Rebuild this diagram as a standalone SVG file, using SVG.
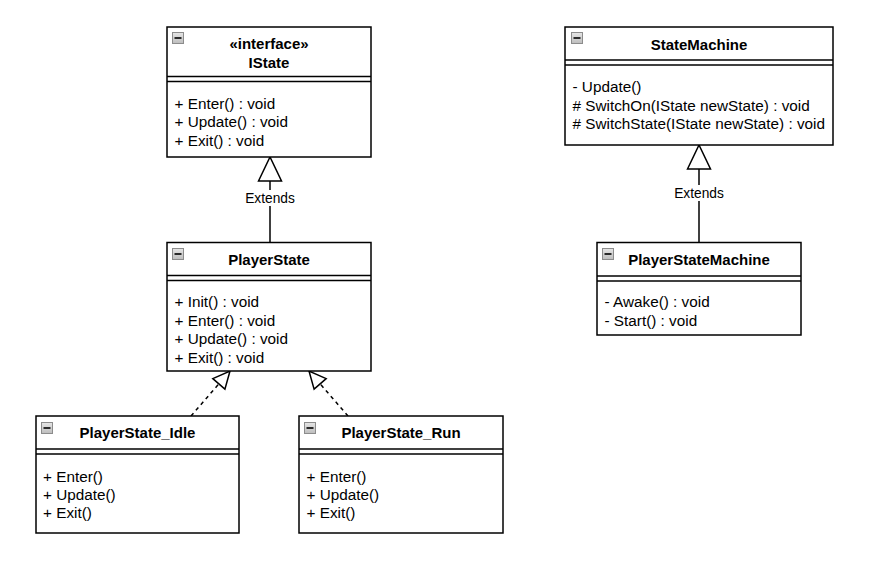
<svg xmlns="http://www.w3.org/2000/svg" xmlns:xlink="http://www.w3.org/1999/xlink" width="875" height="563" viewBox="0 0 875 563">
  <style>
    .box { fill: #ffffff; stroke: #000000; stroke-width: 1.5; }
    .sep { stroke: #000000; stroke-width: 1.5; fill: none; }
    .title { font-family: "Liberation Sans", Arial, Helvetica, sans-serif; font-size: 15px; font-weight: bold; fill: #000000; text-anchor: middle; }
    .mem { font-family: "Liberation Sans", Arial, Helvetica, sans-serif; font-size: 15.3px; fill: #000000; }
    .edge { stroke: #000000; stroke-width: 1.5; fill: none; }
    .dash { stroke-dasharray: 3.75 3.75; }
    .lbl { font-family: "Liberation Sans", Arial, Helvetica, sans-serif; font-size: 13.75px; fill: #000000; text-anchor: middle; }
    .lblbg { fill: #ffffff; }
  </style>
  <defs>
    <linearGradient id="iconGrad" x1="0" y1="0" x2="0" y2="1">
      <stop offset="0" stop-color="#e6e6e6"/>
      <stop offset="1" stop-color="#bdbdbd"/>
    </linearGradient>
    <g id="minus">
      <rect x="0.5" y="0.5" width="11" height="11" fill="url(#iconGrad)" stroke="#8c8c8c" stroke-width="1"/>
      <line x1="2.5" y1="6" x2="9.5" y2="6" stroke="#000000" stroke-width="1.6"/>
    </g>
    <marker id="triL" markerUnits="userSpaceOnUse" viewBox="0 0 24 23" markerWidth="24" markerHeight="23" refX="24" refY="11.5" orient="auto" overflow="visible">
      <path d="M0,0 L24,11.5 L0,23 Z" fill="#ffffff" stroke="#000000" stroke-width="1.5"/>
    </marker>
    <marker id="triS" markerUnits="userSpaceOnUse" viewBox="0 0 17 16" markerWidth="17" markerHeight="16" refX="17" refY="8" orient="auto" overflow="visible">
      <path d="M0,0 L17,8 L0,16 Z" fill="#ffffff" stroke="#000000" stroke-width="1.5"/>
    </marker>
  </defs>

  <g id="connectors">
    <path class="edge" d="M270,242.5 L270,157" marker-end="url(#triL)"/>
    <rect class="lblbg" x="244" y="190" width="52" height="16"/>
    <text class="lbl" x="270" y="203.3">Extends</text>

    <path class="edge" d="M699,242.5 L699,145" marker-end="url(#triL)"/>
    <rect class="lblbg" x="673" y="185" width="52" height="16"/>
    <text class="lbl" x="699" y="197.5">Extends</text>

    <path class="edge dash" d="M191,416 L230,371" marker-end="url(#triS)"/>
    <path class="edge dash" d="M348,416 L309,371" marker-end="url(#triS)"/>
  </g>

  <g id="IState">
    <rect class="box" x="167" y="27" width="204" height="130"/>
    <line class="sep" x1="167" y1="76.5" x2="371" y2="76.5"/>
    <line class="sep" x1="167" y1="81.5" x2="371" y2="81.5"/>
    <use xlink:href="#minus" x="172" y="32"/>
    <text class="title" x="269" y="49.3">«interface»</text>
    <text class="title" x="269" y="67.8">IState</text>
    <text class="mem" x="174.5" y="108.5">+ Enter() : void</text>
    <text class="mem" x="174.5" y="127">+ Update() : void</text>
    <text class="mem" x="174.5" y="145.5">+ Exit() : void</text>
  </g>

  <g id="PlayerState">
    <rect class="box" x="167" y="242.5" width="204" height="128.5"/>
    <line class="sep" x1="167" y1="275.5" x2="371" y2="275.5"/>
    <line class="sep" x1="167" y1="280.5" x2="371" y2="280.5"/>
    <use xlink:href="#minus" x="172" y="248"/>
    <text class="title" x="269" y="265">PlayerState</text>
    <text class="mem" x="174.5" y="307.4">+ Init() : void</text>
    <text class="mem" x="174.5" y="325.8">+ Enter() : void</text>
    <text class="mem" x="174.5" y="344.2">+ Update() : void</text>
    <text class="mem" x="174.5" y="362.6">+ Exit() : void</text>
  </g>

  <g id="StateMachine">
    <rect class="box" x="565" y="27" width="268" height="118"/>
    <line class="sep" x1="565" y1="60" x2="833" y2="60"/>
    <line class="sep" x1="565" y1="65" x2="833" y2="65"/>
    <use xlink:href="#minus" x="571" y="32"/>
    <text class="title" x="699" y="49.5">StateMachine</text>
    <text class="mem" x="572.5" y="92.3">- Update()</text>
    <text class="mem" x="572.5" y="110.7"># SwitchOn(IState newState) : void</text>
    <text class="mem" x="572.5" y="129"># SwitchState(IState newState) : void</text>
  </g>

  <g id="PlayerStateMachine">
    <rect class="box" x="597" y="242.5" width="204" height="92.5"/>
    <line class="sep" x1="597" y1="276" x2="801" y2="276"/>
    <line class="sep" x1="597" y1="281" x2="801" y2="281"/>
    <use xlink:href="#minus" x="602" y="248"/>
    <text class="title" x="699" y="265">PlayerStateMachine</text>
    <text class="mem" x="604.5" y="307.4">- Awake() : void</text>
    <text class="mem" x="604.5" y="325.8">- Start() : void</text>
  </g>

  <g id="PlayerState_Idle">
    <rect class="box" x="36" y="416" width="203" height="117"/>
    <line class="sep" x1="36" y1="449" x2="239" y2="449"/>
    <line class="sep" x1="36" y1="454" x2="239" y2="454"/>
    <use xlink:href="#minus" x="41" y="422"/>
    <text class="title" x="137.5" y="437.5">PlayerState_Idle</text>
    <text class="mem" x="43" y="481.8">+ Enter()</text>
    <text class="mem" x="43" y="500">+ Update()</text>
    <text class="mem" x="43" y="518.4">+ Exit()</text>
  </g>

  <g id="PlayerState_Run">
    <rect class="box" x="299" y="416" width="204" height="117"/>
    <line class="sep" x1="299" y1="449" x2="503" y2="449"/>
    <line class="sep" x1="299" y1="454" x2="503" y2="454"/>
    <use xlink:href="#minus" x="304" y="422"/>
    <text class="title" x="401" y="437.5">PlayerState_Run</text>
    <text class="mem" x="306.5" y="481.8">+ Enter()</text>
    <text class="mem" x="306.5" y="500">+ Update()</text>
    <text class="mem" x="306.5" y="518.4">+ Exit()</text>
  </g>
</svg>
